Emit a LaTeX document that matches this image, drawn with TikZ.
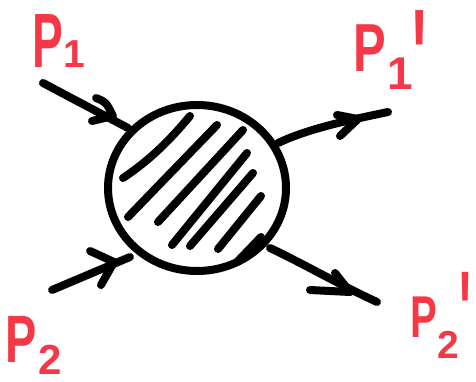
\documentclass[tikz,border=0pt]{standalone}
\usepackage{fontspec}
\setmainfont{Liberation Sans}
\usetikzlibrary{shapes.geometric}
\definecolor{lblred}{RGB}{245,56,72}
\tikzset{
  stroke/.style={line width=8pt, line cap=round, line join=round, black},
  lab/.style={text=lblred, inner sep=0pt, font=\bfseries},
}
\newcommand{\fsz}[1]{\fontsize{#1}{#1}\selectfont\bfseries}
\newcommand{\myprime}{\scalebox{1}[2.3]{\textquotesingle}}
\begin{document}
\begin{tikzpicture}[x=1pt,y=-1pt]
\useasboundingbox (0,0) rectangle (476,382);
% blob
\node[ellipse, draw, line width=8pt, minimum width=178pt, minimum height=166pt, inner sep=0pt] (blob) at (197,188) {};
% hatching
\draw[stroke] (123,178) .. controls (150,160) and (170,140) .. (190,116);
\draw[stroke] (128,217) -- (217,125);
\draw[stroke] (158,222) -- (243,130);
\draw[stroke] (172,245) -- (247,153);
\draw[stroke] (190,246) -- (253,173);
\draw[stroke] (218,249) -- (261,196);
\draw[stroke] (237,262) -- (261,237);
% external points
\coordinate (a1) at (43,83);
\coordinate (a2) at (52,290);
\coordinate (b1) at (388,112);
\coordinate (b2) at (377,302);
\coordinate (ca1) at (128,128);
\coordinate (ca2) at (130,257);
\coordinate (cb1) at (278,143);
\coordinate (cb2) at (270,248);
% legs
\draw[stroke] (a1) -- (ca1);
\draw[stroke] (a2) -- (ca2);
\draw[stroke] (cb1) .. controls (310,128) and (350,120) .. (b1);
\draw[stroke] (cb2) .. controls (300,262) and (340,285) .. (b2);
% chevrons
\draw[stroke] (96,98) .. controls (106,102) .. (113,116) -- (92,121);
\draw[stroke] (90,251) -- (114,262) -- (101,285);
\draw[stroke] (337,115) -- (358,119) -- (340,136);
\draw[stroke] (310,290) -- (350,292) -- (335,273);
% labels
\node[lab, anchor=base west] (p1) at (32,68) {\fsz{77}\scalebox{0.6}[1]{P}};
\node[lab, anchor=base] (p1s) at (74,68) {\fsz{39}1};
\node[lab, anchor=base west] (p2) at (5,362) {\fsz{67}\scalebox{0.7}[1]{P}};
\node[lab, anchor=base west] (p2s) at (38,374) {\fsz{42}2};
\node[lab, anchor=base west] (q1) at (353,72) {\fsz{68}\scalebox{0.72}[1]{P}};
\node[lab, anchor=base west] (q1s) at (387,90) {\fsz{46}1};
\node[lab, anchor=north] (q1p) at (420,10) {\fsz{60}\myprime};
\node[lab, anchor=base west] (q2) at (410,337) {\fsz{59}\scalebox{0.68}[1]{P}};
\node[lab, anchor=base west] (q2s) at (437,358) {\fsz{39}2};
\node[lab, anchor=north] (q2p) at (465,272) {\fsz{50}\myprime};
\end{tikzpicture}
\end{document}
